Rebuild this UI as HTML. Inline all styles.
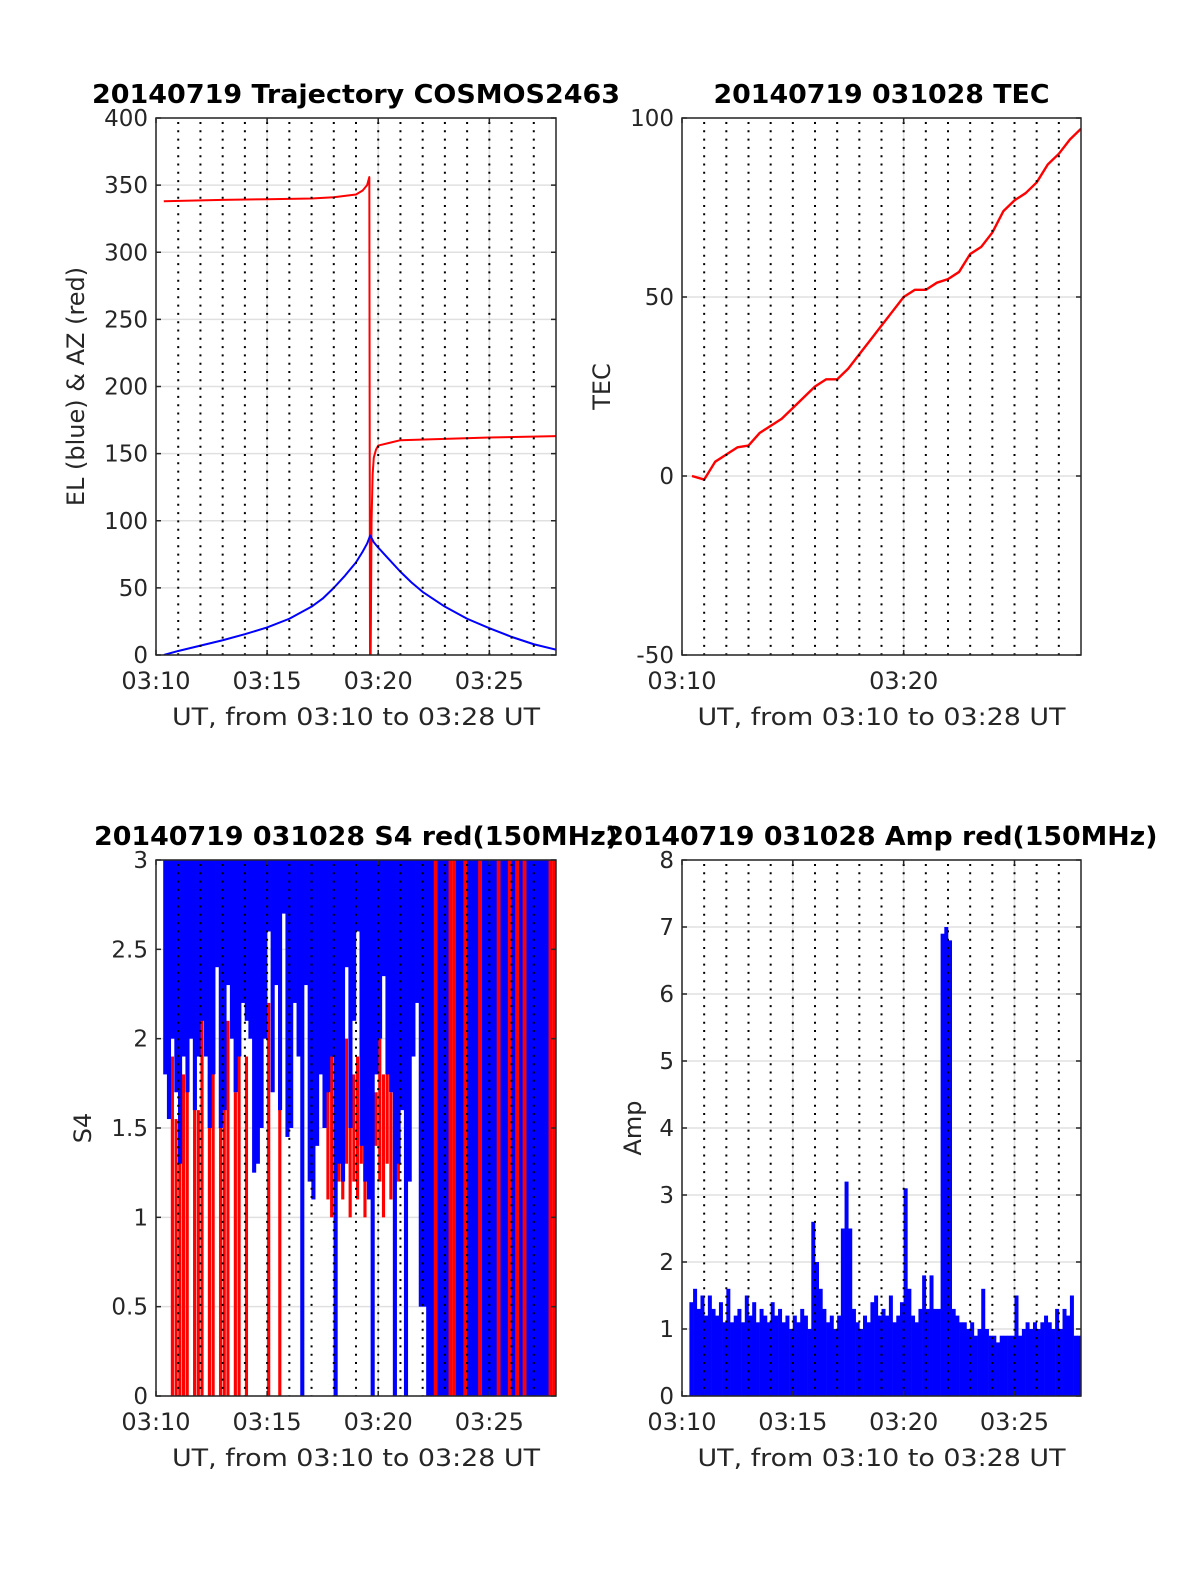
<!DOCTYPE html>
<html><head><meta charset="utf-8"><style>
body{margin:0;background:#fff}
svg{display:block}
text{font-family:"DejaVu Sans","Liberation Sans",sans-serif;fill:#262626}
</style></head><body>
<svg id="fig" width="1200" height="1575" viewBox="0 0 1200 1575" xmlns="http://www.w3.org/2000/svg"></svg>
<script>
// ---- Trajectory data (minutes after 03:10) ----
const elTimes=[0.35,1,2,3,4,5,6,7,7.5,8,8.5,9,9.3,9.5,9.64,9.8,10,10.5,11,11.5,12,13,14,15,16,17,18];
const elValues=[0,3,7,11,15.5,20.5,27,36,42,50,59,69,77,83,89,84,80,71,62,54,47,36,27,20,13.5,8,4];
const azTimes=[0.35,3,5,7,8,9,9.3,9.5,9.6,9.63,9.66,9.7,9.75,9.8,9.9,10,10.5,11,13,15,18];
const azValues=[338,339,339.5,340,341,343,346,350,356,0,0,100,135,147,153,156,158,160,161,162,163];
// ---- TEC data ----
const tecTimes=[0.45,1,1.5,2,2.5,3,3.5,4,4.5,5,5.5,6,6.5,7,7.5,8,8.5,9,9.5,10,10.5,11,11.5,12,12.5,13,13.5,14,14.5,15,15.5,16,16.5,17,17.5,18];
const tecValues=[0,-1,4,6,8,8.5,12,14,16,19,22,25,27,27,30,34,38,42,46,50,52,52,54,55,57,62,64,68,74,77,79,82,87,90,94,97];
// ---- S4 data, 10-s bins from 03:10:00 ----
const s4BlueLow=[null,null,1.8,1.55,2.0,1.7, 1.3,1.9,1.7,2.0,1.6,1.9, 2.1,1.9,1.5,1.8,2.4,1.5, 1.6,2.3,2.0,1.7,1.9,2.2,
 2.1,2.0,1.25,1.3,1.5,2.0, 2.6,1.7,2.3,1.6,2.7,1.45, 1.5,2.2,1.9,0,2.3,1.2, 1.1,1.4,1.8,1.5,1.7,1.9,
 0,1.3,1.2,2.4,1.5,2.1, 2.6,1.4,1.2,1.1,0,1.8, 2.0,2.35,1.8,1.7,0,1.3, 1.6,0,1.2,1.9,2.2,0.5,
 0.5,0,0,null,0,0, 0,null,null,0,0,null, 0,0,0,null,0,0, 0,0,null,0,0,null, 0,null,0,null,0,0, 0,0,0,0,null,null];
const s4RedLo=[null,null,null,null,0,0, 0,0,0,null,0,0, 0,null,0,0,null,0, 0,0,null,0,0,null,
 0,null,null,null,null,null, 0,null,null,0,null,null, null,null,null,null,null,null, null,null,null,null,1.1,1.0,
 0.9,1.2,1.1,1.3,1.0,1.2, 1.1,1.3,1.0,1.2,1.1,1.4, 1.2,1.0,1.3,1.1,1.2,1.2, null,null,null,null,null,null,
 null,null,null,0,null,null, null,0,0,null,null,0, null,null,null,0,null,null, null,null,0,null,null,0, null,0,null,0,null,null, null,null,null,null,0,0];
const s4RedHi=[null,null,null,null,1.9,1.55, 2.0,1.8,2.3,null,2.0,1.6, 2.2,null,1.8,2.3,null,1.9, 1.7,2.1,null,1.7,2.0,null,
 1.9,null,null,null,null,null, 2.2,null,null,2.6,null,null, null,null,null,null,null,null, null,null,null,null,1.8,2.0,
 1.7,1.9,1.8,2.0,1.7,1.8, 1.9,1.7,2.0,1.8,1.9,1.7, 2.0,1.8,1.9,1.7,2.0,1.8, null,null,null,null,null,null,
 null,null,null,3,null,null, null,3,3,null,null,3, null,null,null,3,null,null, null,null,3,null,null,3, null,3,null,3,null,null, null,null,null,null,3,3];
// ---- Amp data, 10-s bins from 03:10:00 ----
const ampValues=[null,null,1.4,1.6,1.3,1.5, 1.2,1.5,1.3,1.2,1.4,1.1, 1.6,1.1,1.2,1.3,1.1,1.5, 1.2,1.4,1.1,1.3,1.2,1.1,
 1.4,1.2,1.3,1.1,1.2,1.0, 1.2,1.1,1.3,1.2,1.0,2.6, 2.0,1.6,1.3,1.1,1.2,1.0, 1.2,2.5,3.2,2.5,1.3,1.1,
 1.0,1.2,1.1,1.4,1.5,1.2, 1.3,1.2,1.5,1.1,1.2,1.4, 3.1,1.6,1.2,1.1,1.3,1.8, 1.3,1.8,1.3,1.3,6.9,7.0,
 6.8,1.3,1.2,1.1,1.1,1.0, 1.1,0.9,1.0,1.6,1.0,0.9, 0.9,0.8,0.9,0.9,0.9,0.9, 1.5,0.9,1.0,1.1,1.0,1.1,
 1.0,1.1,1.2,1.1,1.0,1.3, 1.0,1.3,1.2,1.5,0.9,0.9];

const NS="http://www.w3.org/2000/svg";
const svg=document.getElementById('fig');
function el(tag,attrs,parent){const e=document.createElementNS(NS,tag);for(const k in attrs)e.setAttribute(k,attrs[k]);(parent||svg).appendChild(e);return e;}

function makeAxes(o){
  const g=el('g',{});
  
  
  const X=t=>o.x0+(t-0)/18*(o.x1-o.x0);
  const Y=v=>o.y1-(v-o.ymin)/(o.ymax-o.ymin)*(o.y1-o.y0);
  el('rect',{x:o.x0,y:o.y0,width:o.x1-o.x0,height:o.y1-o.y0,fill:'#fff'},g);
  o.yticks.forEach(v=>{const l=el('line',{x1:o.x0,x2:o.x1,y1:Y(v),y2:Y(v),stroke:'#e0e0e0','stroke-width':1.5},g);
    });
  o.xticks.forEach(t=>{const l=el('line',{x1:X(t),x2:X(t),y1:o.y0,y2:o.y1,stroke:'#e0e0e0','stroke-width':1.5},g);
    });
  const dataG=el('g',{},g);
  
  
  const clip='clip'+o.name;
  const cp=el('clipPath',{id:clip},g);el('rect',{x:o.x0,y:o.y0,width:o.x1-o.x0,height:o.y1-o.y0},cp);
  dataG.setAttribute('clip-path','url(#'+clip+')');
  o.draw(dataG,X,Y);
  for(let m=1;m<18;m++){const l=el('line',{x1:X(m),x2:X(m),y1:o.y0+4,y2:o.y1,stroke:'#000','stroke-width':2,'stroke-dasharray':'2 6.3'},g);
    }
  const f=el('rect',{x:o.x0,y:o.y0,width:o.x1-o.x0,height:o.y1-o.y0,fill:'none',stroke:'#262626','stroke-width':1.5},g);
  
  o.yticks.forEach(v=>{el('line',{x1:o.x0,x2:o.x0+5,y1:Y(v),y2:Y(v),stroke:'#262626','stroke-width':1.5},g);
    el('line',{x1:o.x1,x2:o.x1-5,y1:Y(v),y2:Y(v),stroke:'#262626','stroke-width':1.5},g);
    const t=el('text',{x:o.x0-8,y:Y(v)+8,'font-size':23,'text-anchor':'end'},g);t.textContent=o.yfmt(v);
    });
  o.xticks.forEach((tk,i)=>{el('line',{x1:X(tk),x2:X(tk),y1:o.y1,y2:o.y1-5,stroke:'#262626','stroke-width':1.5},g);
    el('line',{x1:X(tk),x2:X(tk),y1:o.y0,y2:o.y0+5,stroke:'#262626','stroke-width':1.5},g);
    const t=el('text',{x:X(tk),y:o.y1+34,'font-size':24,'text-anchor':'middle'},g);t.textContent=o.xlabels[i];
    });
  const ti=el('text',{x:(o.x0+o.x1)/2,y:o.y0-15,'font-size':26,'font-weight':'bold','text-anchor':'middle',textLength:o.tlen,lengthAdjust:'spacingAndGlyphs'},g);
  ti.textContent=o.title;ti.style.fill='#000';
  
  const xl=el('text',{x:(o.x0+o.x1)/2,y:o.y1+70,'font-size':24,'text-anchor':'middle',textLength:368,lengthAdjust:'spacingAndGlyphs'},g);
  xl.textContent='UT, from 03:10 to 03:28 UT';
  
  const yl=el('text',{x:0,y:0,'font-size':24,'text-anchor':'middle',transform:`translate(${o.ylx},${(o.y0+o.y1)/2}) rotate(-90)`},g);
  yl.textContent=o.ylabel;
  
}
function line(g,X,Y,ts,vs,color,w,name){
  const p=el('polyline',{points:ts.map((t,i)=>X(t).toFixed(2)+','+Y(vs[i]).toFixed(2)).join(' '),fill:'none',stroke:color,'stroke-width':w,'stroke-linejoin':'round'},g);
  
}
const lbl4=['03:10','03:15','03:20','03:25'];
makeAxes({name:'trajectory-chart',x0:156,x1:556,y0:118,y1:655,ymin:0,ymax:400,yticks:[0,50,100,150,200,250,300,350,400],yfmt:v=>String(v),
  xticks:[0,5,10,15],xlabels:lbl4,title:'20140719 Trajectory COSMOS2463',tlen:528,ylabel:'EL (blue) & AZ (red)',ylx:84,
  draw:(g,X,Y)=>{line(g,X,Y,azTimes,azValues,'#ff0000',2,'azimuth-line');line(g,X,Y,elTimes,elValues,'#0000ff',2,'elevation-line');}});
makeAxes({name:'tec-chart',x0:682,x1:1081,y0:118,y1:655,ymin:-50,ymax:100,yticks:[-50,0,50,100],yfmt:v=>String(v),
  xticks:[0,10],xlabels:['03:10','03:20'],title:'20140719 031028 TEC',tlen:336,ylabel:'TEC',ylx:610,
  draw:(g,X,Y)=>{line(g,X,Y,tecTimes,tecValues,'#ff0000',2.4,'tec-line');}});
makeAxes({name:'s4-chart',x0:156,x1:556,y0:860,y1:1396,ymin:0,ymax:3,yticks:[0,0.5,1,1.5,2,2.5,3],yfmt:v=>String(v),
  xticks:[0,5,10,15],xlabels:lbl4,title:'20140719 031028 S4 red(150MHz)',tlen:524,ylabel:'S4',ylx:91,
  draw:(g,X,Y)=>{
    const bw=X(1/6)-X(0);
    s4RedHi.forEach((v,i)=>{if(v===null)return;const r=el('rect',{x:X(i/6),y:Y(v),width:bw*0.85,height:Y(s4RedLo[i])-Y(v),fill:'#ff0000'},g);
      });
    s4BlueLow.forEach((v,i)=>{if(v===null)return;const r=el('rect',{x:X(i/6)-0.2,y:Y(3),width:bw+0.4,height:Y(v)-Y(3),fill:'#0000ff'},g);
      });
    s4RedHi.forEach((v,i)=>{if(v===null||v<3)return;const r=el('rect',{x:X(i/6),y:Y(v),width:bw,height:Y(s4RedLo[i])-Y(v),fill:'#ff0000'},g);
      });
  }});
makeAxes({name:'amp-chart',x0:682,x1:1081,y0:860,y1:1396,ymin:0,ymax:8,yticks:[0,1,2,3,4,5,6,7,8],yfmt:v=>String(v),
  xticks:[0,5,10,15],xlabels:lbl4,title:'20140719 031028 Amp red(150MHz)',tlen:552,ylabel:'Amp',ylx:641,
  draw:(g,X,Y)=>{
    const bw=X(1/6)-X(0);
    ampValues.forEach((v,i)=>{if(v===null)return;const r=el('rect',{x:X(i/6),y:Y(v),width:bw+0.3,height:Y(0)-Y(v),fill:'#0000ff'},g);
      });
  }});
</script>
</body></html>
